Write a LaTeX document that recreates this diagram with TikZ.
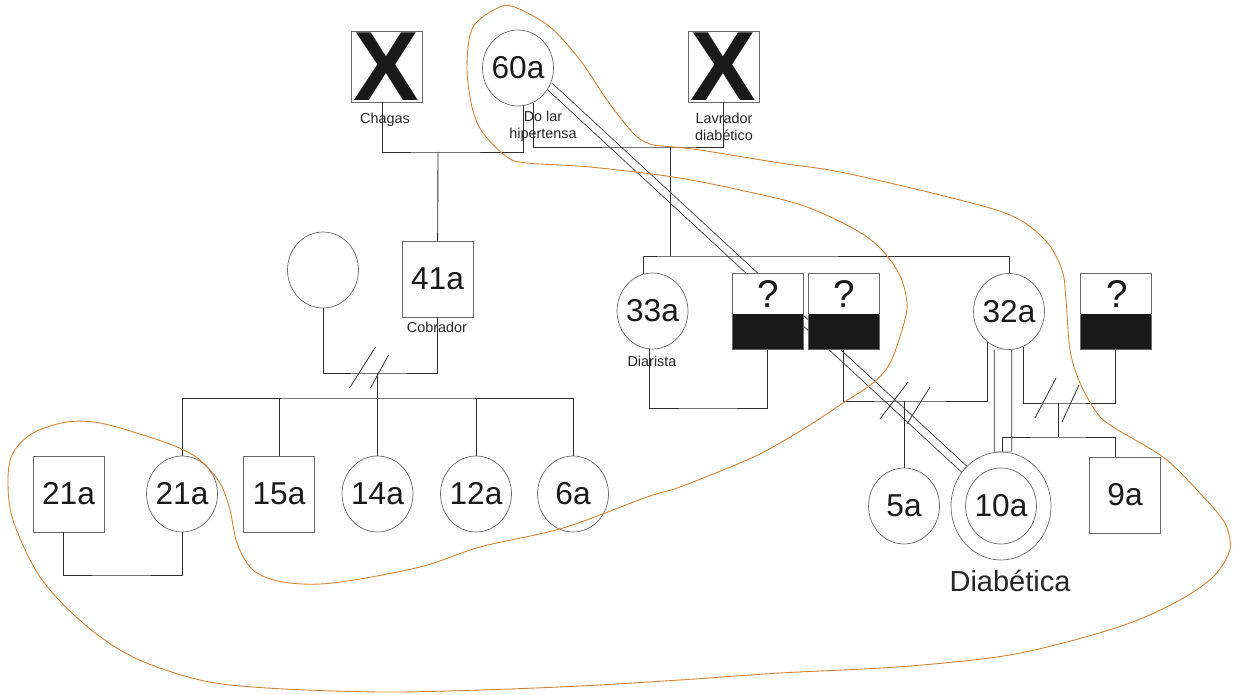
\documentclass[tikz,border=0pt]{standalone}
\usepackage{fontspec}
\setmainfont{Liberation Sans}
\usetikzlibrary{shapes.geometric, calc, positioning}
\pgfdeclarelayer{bg}
\pgfsetlayers{bg,main}
\definecolor{lineclr}{RGB}{45,45,45}
\definecolor{shapeclr}{RGB}{105,105,105}
\definecolor{hullclr}{RGB}{212,130,52}

\begin{document}
\begin{tikzpicture}[x=0.02cm, y=-0.02cm,
	male/.style={draw=shapeclr, fill=white, rectangle, minimum width=1.42cm,
		minimum height=1.52cm, inner sep=0pt, text=black!90, font=\fontsize{18}{18}\selectfont},
	fem/.style={draw=shapeclr, fill=white, ellipse, minimum width=1.42cm,
		minimum height=1.52cm, inner sep=-3pt, text=black!90, font=\fontsize{18}{18}\selectfont},
	dead/.style={male, minimum height=1.42cm, font=\fontsize{56}{56}\selectfont\bfseries},
	unk/.style={male, path picture={\fill[black!90] ([yshift=-0.05cm]path picture bounding box.west)
			rectangle (path picture bounding box.south east);}},
	qm/.style={inner sep=0pt, text=black!90, font=\fontsize{22}{22}\selectfont},
	note/.style={inner sep=0pt, align=center, text=black!85, font=\fontsize{8.2}{9.6}\selectfont},
	lnk/.style={draw=lineclr, line width=0.5pt},
	brk/.style={draw=lineclr, line width=0.45pt},
	dbl/.style={draw=lineclr, line width=0.45pt, double=white, double distance=4pt},
	hull/.style={draw=hullclr, line width=0.5pt}]
	\useasboundingbox (0,0) rectangle (1236,695);

	% grandparents
	\node[dead] (chagas) at (386.5,66.5) {X};
	\node[fem] (n60) at (518,68) {60a};
	\node[dead] (lavr) at (723.5,66.5) {X};
	\node[note, anchor=base] (lchagas) at (385,124) {Chagas};
	\node[note] (l60) at (543,126) {Do lar\\hipertensa};
	\node[note] (llavr) at (724,127) {Lavrador\\diabético};

	% second generation
	\node[fem] (wife) at (323,270) {};
	\node[male] (n41) at (437.5,279) {41a};
	\node[note, anchor=base] (l41) at (437,333) {Cobrador};
	\node[fem] (n33) at (652.5,311) {33a};
	\node[note, anchor=base] (l33) at (652,367) {Diarista};
	\node[unk] (q1) at (767.5,311.5) {};
	\node[unk] (q2) at (843.5,311.5) {};
	\node[fem] (n32) at (1009,311.5) {32a};
	\node[unk] (q3) at (1115.5,311.5) {};
	\node[qm] (q1t) at (768,294) {?};
	\node[qm] (q2t) at (844,294) {?};
	\node[qm] (q3t) at (1117,294) {?};

	% third generation
	\node[male] (n21m) at (68.5,494) {21a};
	\node[fem] (n21f) at (182,494) {21a};
	\node[male] (n15) at (279,494) {15a};
	\node[fem] (n14) at (377.5,494) {14a};
	\node[fem] (n12) at (476,494) {12a};
	\node[fem] (n6) at (573,494) {6a};
	\node[fem] (n5) at (904,506) {5a};
	\node[fem, minimum width=2cm, minimum height=2.16cm] (n10) at (1001,506) {};
	\node[fem] (n10i) at (1001,506) {10a};
	\node[male] (n9) at (1125,495) {9a};
	\node[note, anchor=base, font=\fontsize{16.5}{16.5}\selectfont] (l10) at (1010,591) {Diabética};

	\begin{pgfonlayer}{bg}
		\draw[dbl] (n60.-30) -- (n10.135);
		\draw[dbl, double distance=9.5pt] ([xshift=-0.12cm]n32.south) -- ([xshift=0.04cm]n10.north);
	\end{pgfonlayer}

	% couples and sibships
	\coordinate (m1) at (438,152);
	\draw[lnk] ([xshift=-0.09cm]chagas.south) |- (m1) -| (n60.-82);
	\draw[lnk] (m1) -- (n41);
	\coordinate (m2) at (670,147);
	\coordinate (s2) at (670,256);
	\draw[lnk] (n60.-66) |- (m2) -| (lavr.south);
	\draw[lnk] (m2) -- (s2);
	\draw[lnk] (n33.104) |- (s2) -| (n32);

	\coordinate (m3) at (708,408);
	\draw[lnk] (n33.-95) |- (m3) -| (q1.south);

	\coordinate (m4) at (904,401);
	\draw[lnk] (q2.south) |- (m4) -| (n32.-126);
	\draw[lnk] (m4) -- (n5);
	\draw[brk] ($(m4)+(-24,18)$) -- ++(28,-37);
	\draw[brk] ($(m4)+(3,23)$) -- ++(23,-37);

	\coordinate (m5) at (1058,403);
	\coordinate (s5) at (1058,437);
	\draw[lnk] (n32.-68) |- (m5) -| (q3.south);
	\draw[lnk] (m5) -- (s5);
	\draw[lnk] ([xshift=0.02cm]n10.north) |- (s5) -| ([xshift=-0.2cm]n9.north);
	\draw[brk] ($(m5)+(-23,15)$) -- ++(21,-40);
	\draw[brk] ($(m5)+(4,19)$) -- ++(17,-37);

	\coordinate (m6) at (377.5,373);
	\coordinate (s6) at (377.5,398);
	\draw[lnk] (wife.south) |- (m6) -| (n41.south);
	\draw[lnk] (m6) -- (s6);
	\draw[lnk] (n21f.north) |- (s6) -| (n6.north);
	\draw[lnk] (s6) -- (n14);
	\foreach \k in {n15,n12}
		\draw[lnk] (\k.north) -- (\k.north |- s6);
	\draw[brk] ($(m6)+(-28,15)$) -- ++(26,-41);
	\draw[brk] ($(m6)+(-7,15)$) -- ++(18,-33);

	\coordinate (m7) at (120,575);
	\draw[lnk] ([xshift=-0.11cm]n21m.south) |- (m7) -| (n21f.south);

	% household outline
	\draw[hull] plot[smooth cycle, tension=0.55] coordinates {
		(500,7) (517,8) (550,27) (580,60) (607,100) (633,133) (650,144) (673,147)
		(700,150) (780,163) (840,172) (940,195) (1010,215) (1045,240) (1062,270)
		(1066,300) (1070,350) (1080,383) (1097,413) (1113,427) (1163,457) (1197,490)
		(1223,520) (1230,540) (1228,555) (1213,577) (1180,600) (1130,623) (1063,643)
		(997,657) (897,667) (780,673) (680,680) (580,686) (480,690) (380,692)
		(267,688) (200,680) (133,657) (83,623) (40,577) (13,520) (8,480) (13,453)
		(33,433) (67,422) (100,423) (143,435) (177,447) (200,460) (220,483)
		(230,510) (237,543) (253,570) (283,582) (333,583) (420,567) (480,547)
		(563,528) (647,497) (680,487) (747,460) (780,443) (813,423) (843,403)
		(873,383) (890,363) (902,330) (907,303) (897,270) (867,237) (807,207)
		(740,190) (673,177) (590,167) (527,163) (507,157) (483,133) (472,107)
		(467,67) (473,27)};
\end{tikzpicture}
\end{document}
